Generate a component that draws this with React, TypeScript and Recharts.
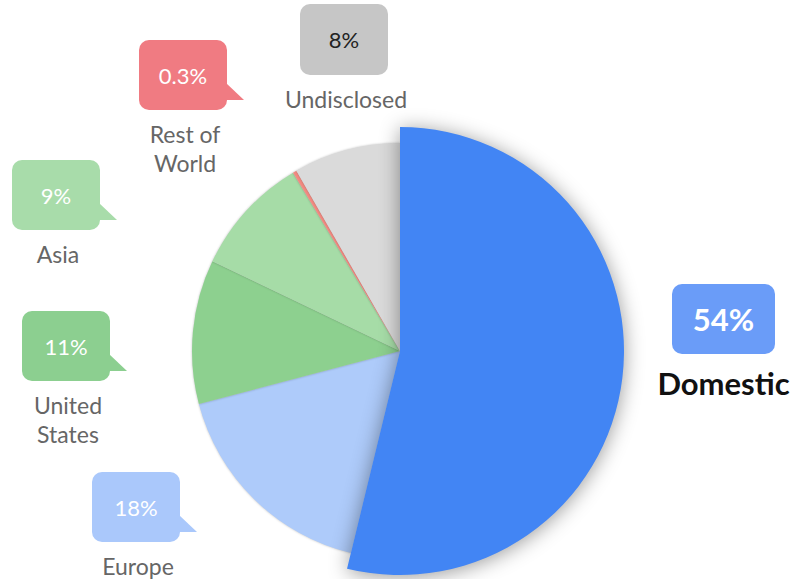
import { PieChart, Pie, Cell } from 'recharts';

document.body.style.margin = '0';

const regions = ['Domestic', 'Europe', 'United States', 'Asia', 'Rest of World', 'Undisclosed'];
// slice sizes
const shares = [53.8, 17.1, 11.2, 9.3, 0.3, 8.3];
const shareLabels = ['54%', '18%', '11%', '9%', '0.3%', '8%'];
const nameLines = [['Domestic'], ['Europe'], ['United', 'States'], ['Asia'], ['Rest of', 'World'], ['Undisclosed']];

const sliceColors = ['#4285f4', '#aecbfa', '#8dd08f', '#a6dca7', '#f28b82', '#dadada'];
const boxColors = ['#6a9cf8', '#aac8fb', '#8ccf90', '#a8dcaa', '#f07b82', '#c6c6c6'];

const data = regions.map((name, i) => ({ name, value: shares[i] }));

// callout box positions (top-left corner), tail points toward the pie
const callouts = [
  { x: 672, y: 284, w: 103, h: 70, tail: false },
  { x: 92, y: 472, w: 88, h: 70, tail: true },
  { x: 22, y: 311, w: 88, h: 70, tail: true },
  { x: 12, y: 160, w: 88, h: 70, tail: true },
  { x: 139, y: 40, w: 88, h: 70, tail: true },
  { x: 300, y: 4, w: 88, h: 71, tail: false },
];

const FONT = 'Lato, "Open Sans", sans-serif';

function Callout(props: any) {
  const i = props.index;
  const c = callouts[i];
  const cx = c.x + c.w / 2;
  const main = i === 0;
  const lines = nameLines[i];
  return (
    <g>
      <rect x={c.x} y={c.y} width={c.w} height={c.h} rx={10} ry={10} fill={boxColors[i]} />
      {c.tail && (
        <polygon
          points={`${c.x + c.w - 1},${c.y + 43} ${c.x + c.w + 17},${c.y + 60} ${c.x + c.w - 1},${c.y + 60}`}
          fill={boxColors[i]}
        />
      )}
      <text
        x={cx}
        y={c.y + c.h / 2}
        textAnchor="middle"
        dominantBaseline="central"
        fontFamily={FONT}
        fontSize={main ? 31 : 22}
        fontWeight={main ? 700 : 400}
        fill={i === 5 ? '#222' : '#fff'}
      >
        {shareLabels[i]}
      </text>
      {lines.map((ln, k) => (
        <text
          key={k}
          x={cx + (main ? 0 : 2)}
          y={main ? c.y + c.h + 41 : c.y + c.h + 33 + k * 29}
          textAnchor="middle"
          fontFamily={FONT}
          fontSize={main ? 31 : 23}
          fontWeight={main ? 700 : 400}
          fill={main ? '#111' : '#666'}
        >
          {ln}
        </text>
      ))}
    </g>
  );
}

export default function App() {
  return (
    <div style={{ width: 792, height: 579, background: '#fff' }}>
      <PieChart width={792} height={579} margin={{ top: 0, right: 0, bottom: 0, left: 0 }}>
        <Pie
          data={data}
          dataKey="value"
          nameKey="name"
          cx={400}
          cy={351}
          outerRadius={208}
          startAngle={90}
          endAngle={-270}
          stroke="none"
          labelLine={false}
          label={Callout}
          isAnimationActive={false}
        >
          {data.map((d, i) => (
            <Cell
              key={d.name}
              fill={i === 0 ? 'transparent' : sliceColors[i]}
              style={{ filter: 'drop-shadow(0 0 1px rgba(0,0,0,0.25))' }}
            />
          ))}
        </Pie>
        <Pie
          data={data}
          dataKey="value"
          nameKey="name"
          cx={400}
          cy={351}
          outerRadius={224}
          startAngle={90}
          endAngle={-270}
          stroke="none"
          isAnimationActive={false}
        >
          {data.map((d, i) => (
            <Cell
              key={d.name}
              fill={i === 0 ? sliceColors[0] : 'transparent'}
              style={i === 0 ? { filter: 'drop-shadow(0 2px 10px rgba(0,0,0,0.4))' } : undefined}
            />
          ))}
        </Pie>
      </PieChart>
    </div>
  );
}
